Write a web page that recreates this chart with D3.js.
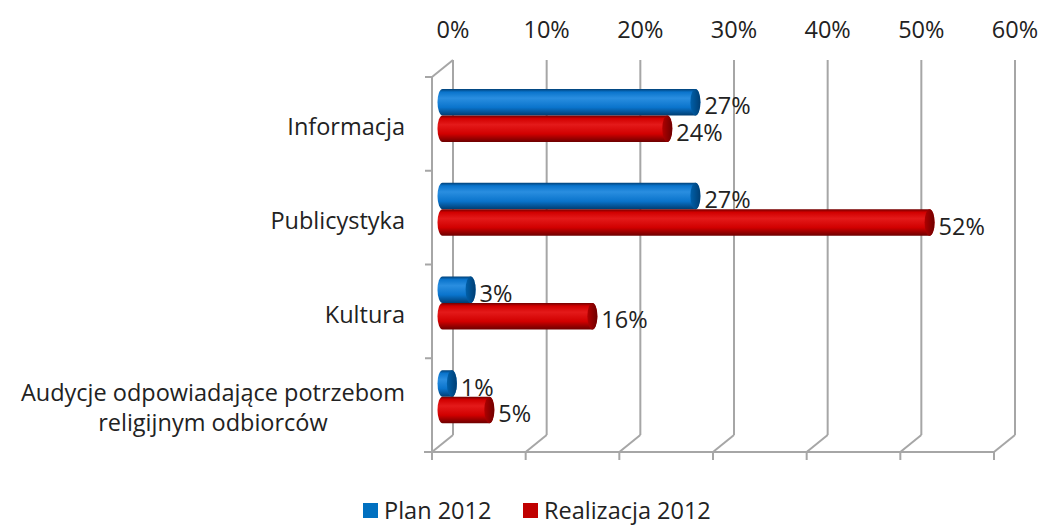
<!DOCTYPE html>
<html>
<head>
<meta charset="utf-8">
<script src="https://cdn.jsdelivr.net/npm/d3@7"></script>
<style>
  body { margin: 0; background: #fff; }
  text { font-family: "Open Sans", "Noto Sans", sans-serif; fill: #222; }
</style>
</head>
<body>
<svg id="chart" width="1043" height="525"></svg>
<script>
//////////////////////////////////////////////////////////////////////////////
// Data
//////////////////////////////////////////////////////////////////////////////

var categories = [
  ['Informacja'],
  ['Publicystyka'],
  ['Kultura'],
  ['Audycje odpowiadające potrzebom', 'religijnym odbiorców']
]
var series_names = ['Plan 2012', 'Realizacja 2012']
var plan_values = [27, 27, 3, 1]
var real_values = [24, 52, 16, 5]
var tick_values = [0, 10, 20, 30, 40, 50, 60]

//////////////////////////////////////////////////////////////////////////////
// Layout
//////////////////////////////////////////////////////////////////////////////

var svg = d3.select('#chart')
var font_size = '23.5px'
var depth = { dx: 21, dy: -17 }   // front -> back offset
var front_left = 432
var front_top = 77
var front_bottom = 452

var x = d3.scaleLinear().domain([0, 60]).range([front_left, front_left + 562])
var y = d3.scaleBand()
  .domain(d3.range(categories.length))
  .range([front_top, front_bottom])
  .paddingInner(0)
  .paddingOuter(0)

var colors = {
  plan: { dark: '#003e73', mid: '#0a74cc', light: '#2a8ee0', cap: '#0060aa' },
  real: { dark: '#6e0000', mid: '#d10000', light: '#e41a1a', cap: '#b00000' }
}

var defs = svg.append('defs')
Object.keys(colors).forEach(function(k) {
  var c = colors[k]
  var g = defs.append('linearGradient')
    .attr('id', 'grad-' + k)
    .attr('x1', 0).attr('y1', 0).attr('x2', 0).attr('y2', 1)
  g.append('stop').attr('offset', '0%').attr('stop-color', c.dark)
  g.append('stop').attr('offset', '12%').attr('stop-color', c.mid)
  g.append('stop').attr('offset', '35%').attr('stop-color', c.light)
  g.append('stop').attr('offset', '70%').attr('stop-color', c.mid)
  g.append('stop').attr('offset', '100%').attr('stop-color', c.dark)
  var gc = defs.append('linearGradient')
    .attr('id', 'cap-' + k)
    .attr('x1', 0).attr('y1', 0).attr('x2', 1).attr('y2', 0)
  gc.append('stop').attr('offset', '0%').attr('stop-color', c.cap)
  gc.append('stop').attr('offset', '100%').attr('stop-color', c.dark)
})

//////////////////////////////////////////////////////////////////////////////
// Walls and grid
//////////////////////////////////////////////////////////////////////////////

var grid_color = '#a6a6a6'
var walls = svg.append('g').attr('id', 'g-walls')

// back gridlines
walls.selectAll('.grid-back')
  .data(tick_values)
  .enter().append('line')
  .attr('x1', d => x(d) + depth.dx).attr('x2', d => x(d) + depth.dx)
  .attr('y1', front_top + depth.dy).attr('y2', front_bottom + depth.dy)
  .attr('stroke', grid_color).attr('stroke-width', 2)

// floor diagonals
walls.selectAll('.grid-floor')
  .data(tick_values)
  .enter().append('line')
  .attr('x1', d => x(d) + depth.dx).attr('y1', front_bottom + depth.dy)
  .attr('x2', d => x(d)).attr('y2', front_bottom)
  .attr('stroke', grid_color).attr('stroke-width', 2)

// floor front line and ticks
walls.append('line')
  .attr('x1', x(0) - 8).attr('x2', x(60))
  .attr('y1', front_bottom).attr('y2', front_bottom)
  .attr('stroke', grid_color).attr('stroke-width', 2)
walls.selectAll('.tick-front')
  .data(tick_values)
  .enter().append('line')
  .attr('x1', d => x(d)).attr('x2', d => x(d))
  .attr('y1', front_bottom).attr('y2', front_bottom + 8)
  .attr('stroke', grid_color).attr('stroke-width', 2)

// left wall
walls.append('line')
  .attr('x1', front_left).attr('x2', front_left)
  .attr('y1', front_top).attr('y2', front_bottom)
  .attr('stroke', grid_color).attr('stroke-width', 2)
walls.append('line')
  .attr('x1', front_left).attr('y1', front_top)
  .attr('x2', front_left + depth.dx).attr('y2', front_top + depth.dy)
  .attr('stroke', grid_color).attr('stroke-width', 2)
walls.selectAll('.tick-left')
  .data(d3.range(categories.length + 1))
  .enter().append('line')
  .attr('x1', front_left - 7).attr('x2', front_left)
  .attr('y1', d => front_top + d * y.step()).attr('y2', d => front_top + d * y.step())
  .attr('stroke', grid_color).attr('stroke-width', 2)

// top axis labels (aligned to back wall)
svg.append('g').selectAll('text')
  .data(tick_values)
  .enter().append('text')
  .attr('x', d => x(d) + depth.dx)
  .attr('y', 38)
  .attr('text-anchor', 'middle')
  .style('font-size', font_size)
  .text(d => d + '%')

//////////////////////////////////////////////////////////////////////////////
// Category labels
//////////////////////////////////////////////////////////////////////////////

var label_right = 405
categories.forEach(function(lines, i) {
  var cy = y(i) + y.bandwidth() / 2 + 3
  var t = svg.append('text')
    .style('font-size', font_size)
    .attr('text-anchor', 'middle')
  var tspans = lines.map(function(line, j) {
    return t.append('tspan')
      .attr('y', cy + (j - (lines.length - 1) / 2) * 30)
      .attr('dy', '0.35em')
      .text(line)
  })
  var w = d3.max(tspans, s => s.node().getComputedTextLength())
  tspans.forEach(s => s.attr('x', label_right - w / 2))
})

//////////////////////////////////////////////////////////////////////////////
// Cylinders
//////////////////////////////////////////////////////////////////////////////

var bar_h = 26.5
var rx = 5
var mid = { dx: depth.dx / 2, dy: depth.dy / 2 }
var series = [
  { key: 'plan', values: plan_values },
  { key: 'real', values: real_values }
]

var bars = svg.append('g').attr('id', 'g-bars')
series.forEach(function(s, si) {
  s.values.forEach(function(v, i) {
    var center = y(i) + y.bandwidth() / 2 + mid.dy
    var top = center - bar_h + si * bar_h
    var bot = top + bar_h
    var x0 = x(0) + mid.dx
    var x1 = x(v) + mid.dx
    var ry = bar_h / 2
    var body = 'M' + x0 + ',' + top + ' L' + x1 + ',' + top +
      ' A' + rx + ',' + ry + ' 0 0 1 ' + x1 + ',' + bot +
      ' L' + x0 + ',' + bot +
      ' A' + rx + ',' + ry + ' 0 0 1 ' + x0 + ',' + top + 'Z'
    bars.append('path')
      .attr('d', body)
      .attr('fill', 'url(#grad-' + s.key + ')')
    bars.append('ellipse')
      .attr('cx', x1).attr('cy', top + ry)
      .attr('rx', rx).attr('ry', ry)
      .attr('fill', 'url(#cap-' + s.key + ')')
    bars.append('text')
      .attr('x', x1 + rx + 4)
      .attr('y', top + ry + 4)
      .attr('dy', '0.35em')
      .style('font-size', font_size)
      .text(v + '%')
  })
})

//////////////////////////////////////////////////////////////////////////////
// Legend
//////////////////////////////////////////////////////////////////////////////

var legend_items = [
  { name: series_names[0], color: '#0070c0', x: 363 },
  { name: series_names[1], color: '#c00000', x: 523 }
]
var legend = svg.append('g').attr('id', 'g-legend')
legend_items.forEach(function(d) {
  legend.append('rect')
    .attr('x', d.x).attr('y', 503)
    .attr('width', 15).attr('height', 15)
    .attr('fill', d.color)
  legend.append('text')
    .attr('x', d.x + 21).attr('y', 519)
    .style('font-size', font_size)
    .text(d.name)
})
</script>
</body>
</html>
